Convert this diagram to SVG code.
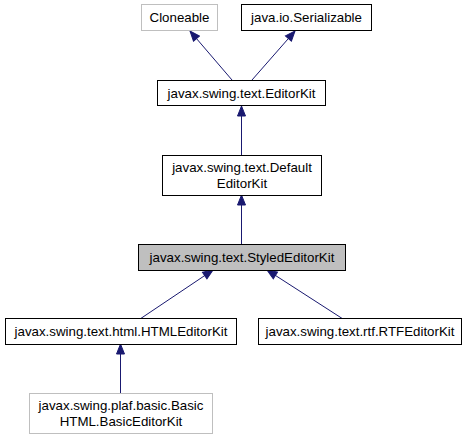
<svg xmlns="http://www.w3.org/2000/svg" width="472" height="440" viewBox="0 0 472 440">
<style>
.n rect{fill:#fff;stroke:#000;stroke-width:1}
.g rect{stroke:#bfbfbf}
.h rect{fill:#bfbfbf}
text{font-family:"Liberation Sans",Arial,sans-serif;font-size:13.3px;text-anchor:middle;fill:#000}
.e path{fill:none;stroke:#191970;stroke-width:1}
</style>
<defs>
<marker id="a" markerUnits="userSpaceOnUse" markerWidth="12" markerHeight="10" refX="11" refY="5" orient="auto">
<path d="M1,1 L11,5 L1,9 z" fill="#191970" stroke="#191970" stroke-width="1"/>
</marker>
</defs>
<rect width="472" height="440" fill="#fff"/>
<g id="edges" class="e">
<path d="M232,80 L190,31" marker-end="url(#a)"/>
<path d="M252,80 L295,31" marker-end="url(#a)"/>
<path d="M241.5,155 L241.5,106" marker-end="url(#a)"/>
<path d="M241.5,244 L241.5,195" marker-end="url(#a)"/>
<path d="M140,319 L213,270" marker-end="url(#a)"/>
<path d="M343,319 L267,270" marker-end="url(#a)"/>
<path d="M120.5,393 L120.5,344" marker-end="url(#a)"/>
</g>
<g id="Cloneable" class="n g"><rect x="141.5" y="4.5" width="76" height="26"/><text x="179.5" y="22">Cloneable</text></g>
<g id="Serializable" class="n"><rect x="241.5" y="4.5" width="130" height="26"/><text x="306.5" y="22">java.io.Serializable</text></g>
<g id="EditorKit" class="n"><rect x="157.5" y="80.5" width="168" height="25"/><text x="241.5" y="97.5">javax.swing.text.EditorKit</text></g>
<g id="DefaultEditorKit" class="n"><rect x="162.5" y="155.5" width="159" height="40"/><text x="242" y="172">javax.swing.text.Default</text><text x="242" y="187.5">EditorKit</text></g>
<g id="StyledEditorKit" class="n h"><rect x="138.5" y="244.5" width="207" height="26"/><text x="242" y="262">javax.swing.text.StyledEditorKit</text></g>
<g id="HTMLEditorKit" class="n"><rect x="5.5" y="318.5" width="231" height="26"/><text x="121" y="336">javax.swing.text.html.HTMLEditorKit</text></g>
<g id="RTFEditorKit" class="n"><rect x="258.5" y="318.5" width="203" height="26"/><text x="360" y="336">javax.swing.text.rtf.RTFEditorKit</text></g>
<g id="BasicEditorKit" class="n g"><rect x="29.5" y="393.5" width="183" height="40"/><text x="121" y="410">javax.swing.plaf.basic.Basic</text><text x="121" y="425.5">HTML.BasicEditorKit</text></g>
</svg>
